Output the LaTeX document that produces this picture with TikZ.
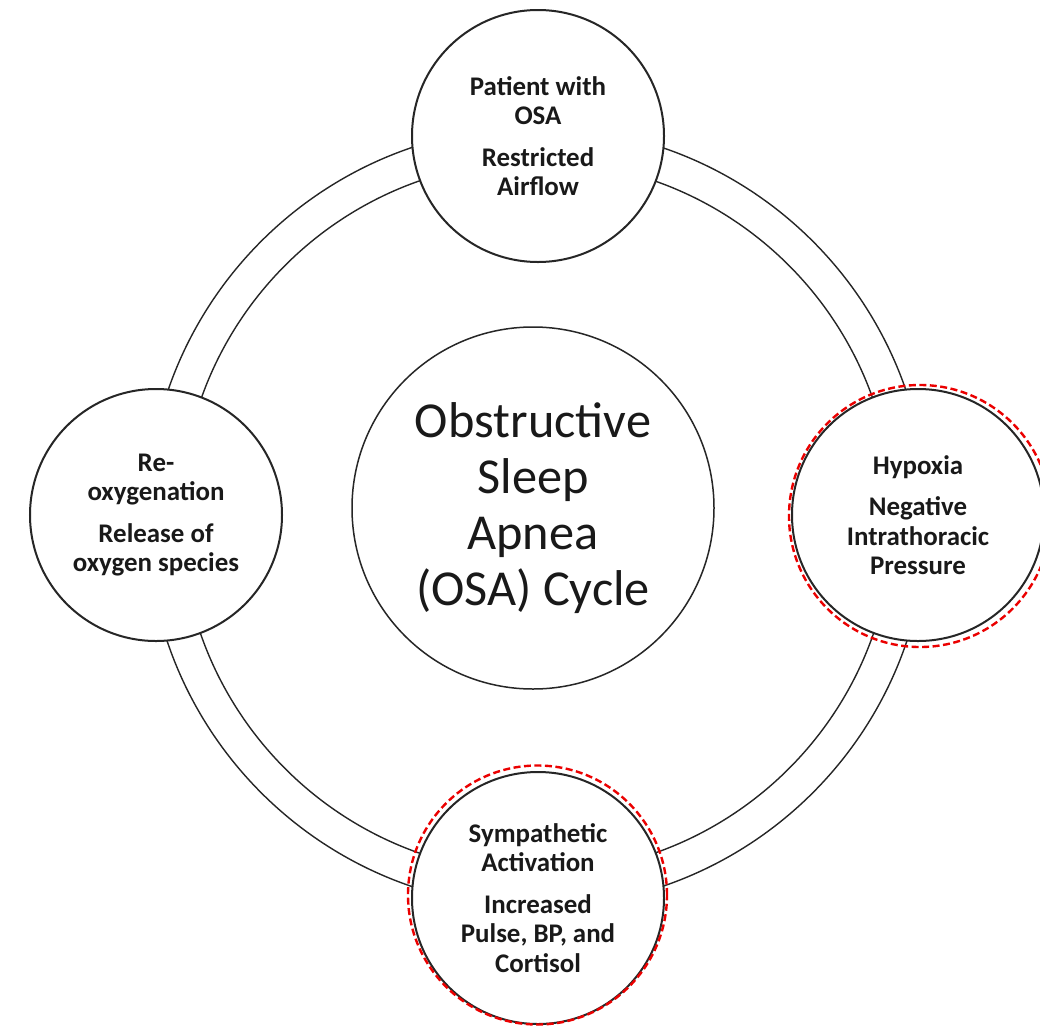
\documentclass[tikz,border=0pt]{standalone}
\usepackage{fontspec}
\setmainfont{Carlito}
\begin{document}
\begin{tikzpicture}[x=1bp,y=-1bp]
\tikzset{
 ring/.style={draw=black!85, line width=1.4bp},
 stage/.style={circle, draw=black!85, line width=2bp, fill=white, minimum size=252bp, inner sep=0pt, align=center, font=\bfseries\fontsize{27}{29.5}\selectfont, text=black!90},
 hub/.style={circle, draw=black!85, line width=1.5bp, fill=white, minimum size=362bp, inner sep=0pt, align=center, font=\fontsize{50.5}{56}\selectfont, text=black!90},
 highlight/.style={circle, draw={rgb,255:red,235;green,0;blue,0}, line width=2.4bp, dash pattern=on 7bp off 3.5bp, inner sep=0pt}
}
\useasboundingbox (0,0) rectangle (1040,1026);
\fill[white] (0,0) rectangle (1040,1026);
\coordinate (c) at (537,517);
\draw[ring] (c) circle[radius=390bp];
\draw[ring] (c) circle[radius=356bp];
\node[hub] (hub) at (533,508) {Obstructive\\Sleep\\Apnea\\(OSA) Cycle};
\node[stage] (top) at (538,136) {Patient with\\OSA\\[12bp]Restricted\\Airflow};
\node[stage] (right) at (918,515) {Hypoxia\\[12bp]Negative\\Intrathoracic\\Pressure};
\node[stage] (bottom) at (538,898) {Sympathetic\\Activation\\[12bp]Increased\\Pulse, BP, and\\Cortisol};
\node[stage] (left) at (156,515) {Re-\\oxygenation\\[12bp]Release of\\oxygen species};
\node[highlight, minimum size=262bp] (hlright) at (920,516) {};
\node[highlight, minimum size=259bp] (hlbottom) at (537.5,895) {};
\end{tikzpicture}
\end{document}
